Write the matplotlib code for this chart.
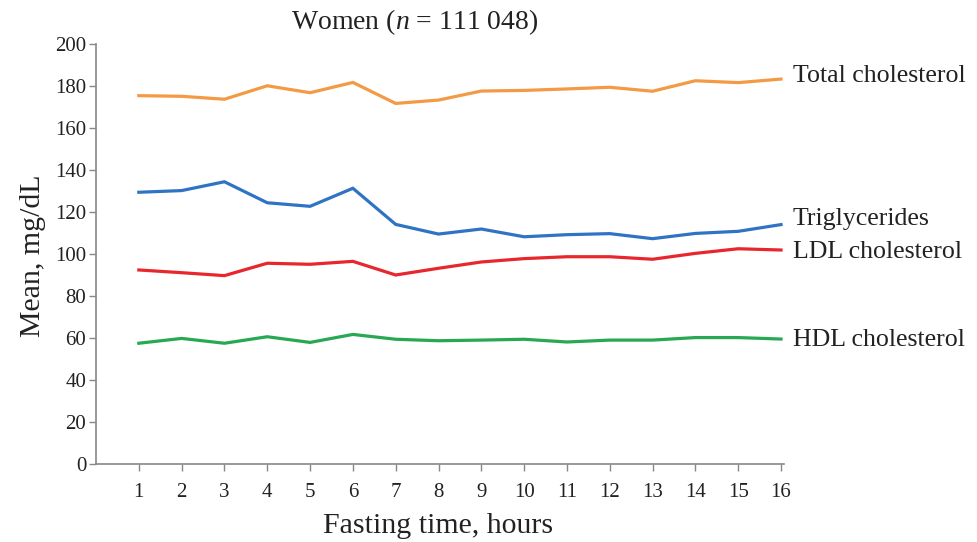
import matplotlib
matplotlib.use("Agg")
import matplotlib.pyplot as plt

# ── Data ─────────────────────────────────────────────────────────────────────
hours = list(range(1, 17))

total_chol = [175.4, 175.1, 173.7, 180.1, 176.8, 181.7, 171.7, 173.3,
              177.6, 177.9, 178.6, 179.4, 177.5, 182.5, 181.6, 183.3]
triglycerides = [129.4, 130.2, 134.4, 124.4, 122.7, 131.3, 114.1, 109.5,
                 111.9, 108.2, 109.2, 109.7, 107.3, 109.8, 110.8, 114.0]
ldl_chol = [92.4, 91.1, 89.7, 95.6, 95.1, 96.5, 90.0, 93.2,
            96.2, 97.8, 98.7, 98.7, 97.5, 100.3, 102.5, 101.9]
hdl_chol = [57.5, 59.8, 57.5, 60.6, 57.9, 61.7, 59.4, 58.7,
            59.0, 59.4, 58.1, 59.0, 59.0, 60.2, 60.2, 59.5]

series_names = ["Total cholesterol", "Triglycerides", "LDL cholesterol", "HDL cholesterol"]
series_vals = [total_chol, triglycerides, ldl_chol, hdl_chol]
series_colors = ["#f39a45", "#2f73c4", "#e8262d", "#27a853"]
label_y = [184.8, 116.7, 101.0, 59.0]   # where the end labels sit

y_ticks = list(range(0, 201, 20))

# ── Plot ─────────────────────────────────────────────────────────────────────
plt.rcParams["font.family"] = ["Liberation Serif", "DejaVu Serif"]
plt.rcParams["mathtext.fontset"] = "custom"
plt.rcParams["mathtext.rm"] = "Liberation Serif"
plt.rcParams["mathtext.it"] = "Liberation Serif:italic"

fig = plt.figure(figsize=(9.77, 5.42), dpi=100)
ax = fig.add_axes([96 / 977, 1 - 464 / 542, (784 - 96) / 977, (464 - 44) / 542])

for name, vals, col in zip(series_names, series_vals, series_colors):
    ax.plot(hours, vals, color=col, linewidth=2.3, solid_joinstyle="miter")

for name, yl in zip(series_names, label_y):
    ax.text(16.28, yl, name, fontsize=18.6, va="center", ha="left",
            color="#222222", clip_on=False)

ax.set_xlim(0, 16.07)
ax.set_ylim(0, 200)
ax.set_xticks(hours)
ax.set_yticks(y_ticks)
ax.tick_params(axis="both", labelsize=15, colors="#888888", labelcolor="#222222",
               length=5, width=1, direction="out")
ax.tick_params(axis="x", pad=9)
ax.tick_params(axis="y", pad=2)

for side in ["top", "right"]:
    ax.spines[side].set_visible(False)
for side in ["left", "bottom"]:
    ax.spines[side].set_color("#888888")
    ax.spines[side].set_linewidth(1.2)

fig.text(438 / 977, 1 - 526 / 542, "Fasting time, hours", fontsize=21.5,
         color="#222222", ha="center", va="center")
fig.text(33 / 977, 1 - 256 / 542, "Mean, mg/dL", rotation=90, fontsize=21.5,
         color="#222222", ha="center", va="center")

fig.text(415 / 977, 1 - 22 / 542, r"Women ($\mathit{n}$ = 111 048)", fontsize=20,
         color="#222222", ha="center", va="center")

fig.savefig("out.png", dpi=100)
